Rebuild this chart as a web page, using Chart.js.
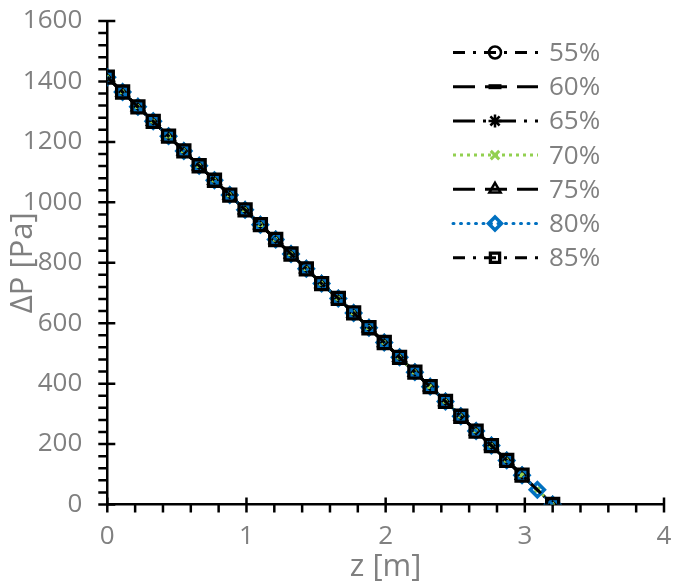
<!DOCTYPE html>
<html><head><meta charset="utf-8">
<script src="https://cdn.jsdelivr.net/npm/chart.js@4"></script>
<style>html,body{margin:0;padding:0;background:#fff}#wrap{width:676px;height:583px}</style>
</head><body><div id="wrap"><canvas id="c" width="676" height="583"></canvas></div>
<script>
// ---------- data ----------
const seriesLabels = ['55%', '60%', '65%', '70%', '75%', '80%', '85%'];
// z positions [m] (points common to all series)
const zMain  = [0, 0.11, 0.22, 0.33, 0.44, 0.55, 0.66, 0.77, 0.88, 0.99, 1.10, 1.21, 1.32, 1.43, 1.54, 1.66, 1.77, 1.88, 1.99, 2.10, 2.21, 2.32, 2.43, 2.54, 2.65, 2.76, 2.87, 2.98, 3.20];
const dpMain = [1414, 1365, 1316, 1268, 1219, 1170, 1121, 1073, 1024, 975, 926, 877, 829, 780, 731, 682, 634, 585, 536, 487, 438, 390, 341, 292, 243, 195, 146, 97, 0];
// series that also carry the point near the outlet
const zFull  = [0, 0.11, 0.22, 0.33, 0.44, 0.55, 0.66, 0.77, 0.88, 0.99, 1.10, 1.21, 1.32, 1.43, 1.54, 1.66, 1.77, 1.88, 1.99, 2.10, 2.21, 2.32, 2.43, 2.54, 2.65, 2.76, 2.87, 2.98, 3.09, 3.20];
const dpFull = [1414, 1365, 1316, 1268, 1219, 1170, 1121, 1073, 1024, 975, 926, 877, 829, 780, 731, 682, 634, 585, 536, 487, 438, 390, 341, 292, 243, 195, 146, 97, 49, 0];
const xTickValues = [0, 1, 2, 3, 4];
const yTickValues = [0, 200, 400, 600, 800, 1000, 1200, 1400, 1600];

// ---------- styles ----------
const FONT = 'Open Sans';
const TEXT = '#808080';
const styles = [
  {color:'#000', dash:[12,8,3,8], point:'circle',   r:6,   pw:2.5, full:false},
  {color:'#000', dash:[22,10],    point:'line',     r:7,   pw:5,   full:false},
  {color:'#000', dash:[22,8,3,8], point:'star',     r:7,   pw:2.5, full:false},
  {color:'#92d050', dash:[3,4],   point:'crossRot', r:6,   pw:3,   full:true},
  {color:'#000', dash:[22,10],    point:'triangle', r:7,   pw:2.5, full:false},
  {color:'#0070c0', dash:[1,6.5], point:'rectRot',  r:7,   pw:3.5, full:true, cap:'round'},
  {color:'#000', dash:[12,8,3,8], point:'rect',     r:8.5, pw:3.3, full:false}
];

const datasets = seriesLabels.map((lab, i) => {
  const s = styles[i];
  const zs = s.full ? zFull : zMain;
  const ps = s.full ? dpFull : dpMain;
  return {
    label: lab,
    data: zs.map((z, k) => ({x: z, y: ps[k]})),
    borderColor: s.color,
    borderWidth: 3,
    borderDash: s.dash,
    borderCapStyle: s.cap || 'butt',
    pointStyle: s.point,
    pointRadius: s.r,
    pointBorderWidth: s.pw,
    pointBorderColor: s.color,
    pointBackgroundColor: 'rgba(0,0,0,0)',
    fill: false,
    tension: 0,
    order: seriesLabels.length - 1 - i
  };
});

// axis tick marks (major crossing, minor outside)
const axisTicks = {
  id: 'axisTicks',
  beforeDatasetsDraw(chart) {
    const {ctx, chartArea, scales: {x, y}} = chart;
    ctx.save();
    ctx.strokeStyle = '#000';
    ctx.lineWidth = 2.5;
    const ay = chartArea.bottom, ax = chartArea.left;
    ctx.beginPath();
    for (let k = 0; k <= 20; k++) {
      const px = x.getPixelForValue(k * 0.2);
      const major = k % 5 === 0;
      ctx.moveTo(px, major ? ay - 7 : ay);
      ctx.lineTo(px, ay + 8);
    }
    for (let k = 0; k <= 40; k++) {
      const py = y.getPixelForValue(k * 40);
      const major = k % 5 === 0;
      ctx.moveTo(ax - 9, py);
      ctx.lineTo(major ? ax + 8 : ax, py);
    }
    ctx.stroke();
    ctx.restore();
  }
};

// legend: line sample with dash, marker in the middle, label to the right
const lineLegend = {
  id: 'lineLegend',
  afterDraw(chart) {
    const ctx = chart.ctx;
    const y0 = 52.5, dy = 34.2, x0 = 453, x1 = 538, xm = 495, xt = 549;
    chart.data.datasets.forEach((ds, i) => {
      const yy = y0 + i * dy;
      ctx.save();
      ctx.strokeStyle = ds.borderColor;
      ctx.lineWidth = 3;
      ctx.lineCap = ds.borderCapStyle;
      ctx.setLineDash(ds.borderDash);
      ctx.beginPath(); ctx.moveTo(x0, yy); ctx.lineTo(x1, yy); ctx.stroke();
      ctx.setLineDash([]);
      ctx.lineCap = 'butt';
      ctx.lineWidth = ds.pointBorderWidth;
      ctx.strokeStyle = ds.pointBorderColor;
      ctx.fillStyle = 'rgba(0,0,0,0)';
      Chart.helpers.drawPoint(ctx, {pointStyle: ds.pointStyle, radius: Math.min(ds.pointRadius, 6.5), rotation: 0, borderWidth: ds.pointBorderWidth}, xm, yy);
      ctx.fillStyle = TEXT;
      ctx.font = '26px "' + FONT + '"';
      ctx.textBaseline = 'middle';
      ctx.textAlign = 'left';
      ctx.fillText(ds.label, xt, yy + 1);
      ctx.restore();
    });
  }
};

new Chart(document.getElementById('c'), {
  type: 'line',
  data: {datasets},
  plugins: [axisTicks, lineLegend],
  options: {
    responsive: false,
    animation: false,
    layout: {padding: {top: 21, right: 8, left: 0, bottom: 0}},
    plugins: {legend: {display: false}, tooltip: {enabled: false}},
    scales: {
      x: {
        type: 'linear', min: 0, max: 4,
        afterBuildTicks: s => { s.ticks = xTickValues.map(v => ({value: v})); },
        afterFit: s => { s.height = 78.5; s.paddingLeft = 0; s.paddingRight = 0; },
        grid: {display: false, drawTicks: false},
        border: {display: true, color: '#000', width: 2.5},
        ticks: {color: TEXT, font: {family: FONT, size: 26}, padding: 16, maxRotation: 0, autoSkip: false, callback: v => String(v)},
        title: {display: true, text: 'z [m]', color: TEXT, font: {family: FONT, size: 31, lineHeight: 1}, padding: {top: 0, bottom: 0}}
      },
      y: {
        type: 'linear', min: 0, max: 1600,
        afterBuildTicks: s => { s.ticks = yTickValues.map(v => ({value: v})); },
        afterFit: s => { s.width = 107.3; s.paddingTop = 0; s.paddingBottom = 0; },
        grid: {display: false, drawTicks: false},
        border: {display: true, color: '#000', width: 2.5},
        ticks: {color: TEXT, font: {family: FONT, size: 26}, padding: 25, autoSkip: false, callback: v => String(v)},
        title: {display: true, text: 'ΔP [Pa]', color: TEXT, font: {family: FONT, size: 31, lineHeight: 1}, padding: {top: 7.5, bottom: 0}}
      }
    }
  }
});
</script>
</body></html>
